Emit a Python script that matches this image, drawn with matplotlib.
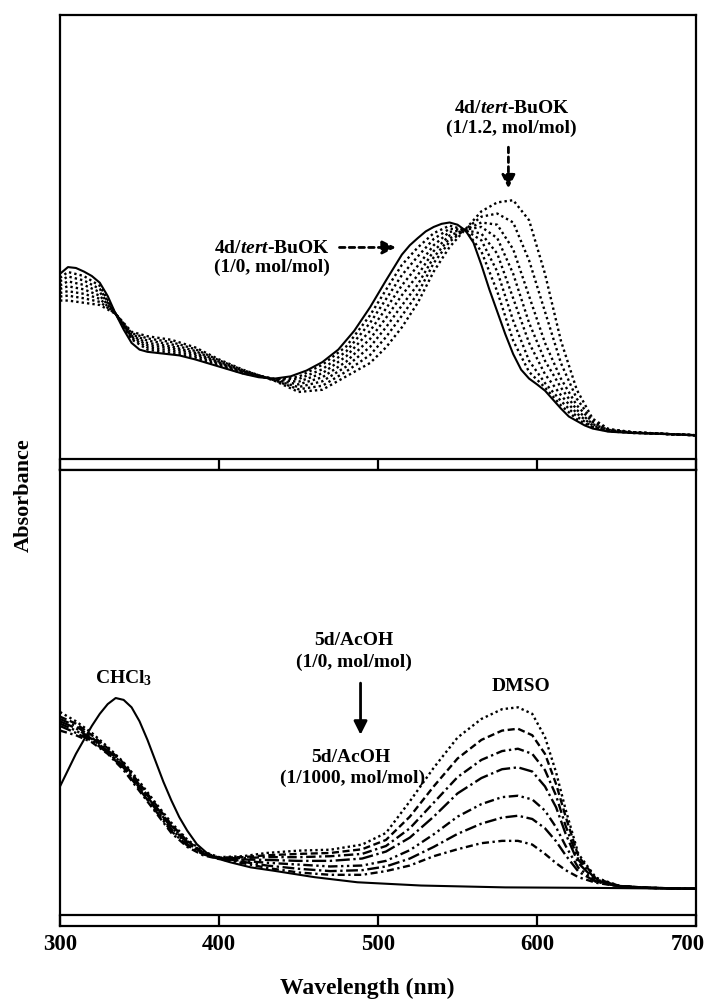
"""UV-vis spectra: 4d titrated with tert-BuOK (top), 5d with AcOH in DMSO (bottom)"""
import matplotlib
matplotlib.use('Agg')
import matplotlib.pyplot as plt
from matplotlib.transforms import ScaledTranslation

plt.rcParams['font.family'] = 'Liberation Serif'
plt.rcParams['font.weight'] = 'bold'
plt.rcParams['mathtext.fontset'] = 'custom'
plt.rcParams['mathtext.rm'] = 'Liberation Serif:bold'
plt.rcParams['mathtext.it'] = 'Liberation Serif:italic:bold'
plt.rcParams['mathtext.bf'] = 'Liberation Serif:bold'

# ---- top panel: 4d / tert-BuOK ----
wl_top_solid = [300, 305, 310, 315, 320, 325, 330, 335, 340, 345, 350, 355, 365, 375, 385,
                400, 415, 425, 435, 445, 455, 465, 475, 485, 495, 505, 515, 520, 525, 530,
                535, 540, 545, 550, 555, 560, 565, 570, 575, 580, 585, 590, 595, 600, 605,
                610, 615, 620, 625, 630, 635, 645, 660, 680, 700]
top_solid = [0.42, 0.435, 0.433, 0.425, 0.415, 0.40, 0.37, 0.33, 0.295, 0.265, 0.25, 0.245,
             0.241, 0.237, 0.228, 0.212, 0.196, 0.188, 0.185, 0.19, 0.203, 0.222, 0.25, 0.292,
             0.345, 0.405, 0.463, 0.484, 0.50, 0.515, 0.525, 0.532, 0.535, 0.53, 0.517, 0.49,
             0.44, 0.385, 0.335, 0.285, 0.24, 0.205, 0.185, 0.172, 0.158, 0.138, 0.118, 0.10,
             0.09, 0.08, 0.073, 0.066, 0.063, 0.061, 0.058]

wl_top = [300, 305, 315, 325, 335, 345, 355, 370, 385, 400, 415, 435, 450, 465, 480,
          495, 505, 515, 525, 535, 545, 555, 565, 575, 585, 595, 605, 615, 625, 635,
          645, 660, 680, 700]
top_dot1 = [0.411, 0.424, 0.415, 0.393, 0.33, 0.273, 0.25, 0.243, 0.232, 0.214, 0.197, 0.184,
            0.189, 0.216, 0.257, 0.327, 0.384, 0.44, 0.479, 0.511, 0.528, 0.518, 0.47, 0.38,
            0.27, 0.20, 0.165, 0.125, 0.094, 0.075, 0.067, 0.063, 0.061, 0.058]
top_dot2 = [0.403, 0.414, 0.405, 0.386, 0.33, 0.276, 0.255, 0.248, 0.236, 0.217, 0.199, 0.184,
            0.184, 0.206, 0.246, 0.31, 0.363, 0.417, 0.459, 0.498, 0.521, 0.518, 0.495, 0.425,
            0.315, 0.225, 0.175, 0.135, 0.10, 0.077, 0.068, 0.064, 0.061, 0.058]
top_dot3 = [0.394, 0.403, 0.395, 0.379, 0.33, 0.279, 0.26, 0.253, 0.24, 0.219, 0.20, 0.183,
            0.178, 0.197, 0.235, 0.292, 0.342, 0.394, 0.438, 0.484, 0.514, 0.518, 0.51, 0.465,
            0.365, 0.265, 0.195, 0.148, 0.107, 0.08, 0.069, 0.064, 0.061, 0.058]
top_dot4 = [0.386, 0.392, 0.385, 0.371, 0.33, 0.281, 0.265, 0.257, 0.243, 0.221, 0.201, 0.182,
            0.172, 0.188, 0.223, 0.274, 0.321, 0.372, 0.417, 0.471, 0.506, 0.519, 0.525, 0.50,
            0.42, 0.31, 0.225, 0.165, 0.115, 0.083, 0.07, 0.064, 0.061, 0.058]
top_dot5 = [0.377, 0.381, 0.375, 0.364, 0.33, 0.284, 0.27, 0.262, 0.247, 0.223, 0.202, 0.181,
            0.166, 0.179, 0.212, 0.256, 0.30, 0.349, 0.396, 0.457, 0.499, 0.519, 0.535, 0.53,
            0.475, 0.37, 0.265, 0.185, 0.125, 0.087, 0.07, 0.065, 0.061, 0.058]
top_dot6 = [0.369, 0.371, 0.365, 0.357, 0.33, 0.287, 0.275, 0.267, 0.251, 0.226, 0.204, 0.181,
            0.161, 0.169, 0.201, 0.238, 0.278, 0.326, 0.376, 0.444, 0.492, 0.52, 0.548, 0.555,
            0.535, 0.45, 0.335, 0.22, 0.14, 0.09, 0.071, 0.065, 0.061, 0.058]
top_dot7 = [0.36, 0.36, 0.355, 0.35, 0.33, 0.29, 0.28, 0.272, 0.255, 0.228, 0.205, 0.18,
            0.155, 0.16, 0.19, 0.22, 0.255, 0.30, 0.355, 0.425, 0.48, 0.52, 0.56, 0.58,
            0.585, 0.54, 0.42, 0.27, 0.16, 0.095, 0.072, 0.065, 0.061, 0.058]

# ---- bottom panel: 5d in CHCl3 / DMSO with AcOH ----
wl_chcl3 = [300, 305, 310, 315, 320, 325, 330, 335, 340, 345, 350, 355, 360, 365, 370,
            375, 380, 386, 392, 397, 407, 420, 434, 460, 487, 527, 580, 633, 700]
chcl3 = [0.30, 0.335, 0.37, 0.40, 0.43, 0.456, 0.477, 0.49, 0.486, 0.47, 0.44, 0.40,
         0.355, 0.31, 0.27, 0.234, 0.205, 0.176, 0.158, 0.147, 0.137, 0.126, 0.119, 0.105,
         0.094, 0.087, 0.083, 0.082, 0.08]

wl_dmso = [300, 310, 320, 330, 340, 350, 360, 370, 380, 390, 400, 415, 430, 450, 470, 490,
           505, 520, 535, 550, 565, 578, 588, 597, 605, 612, 618, 626, 637, 652, 670, 700]
dmso_1 = [0.46, 0.44, 0.415, 0.385, 0.352, 0.31, 0.265, 0.222, 0.186, 0.16, 0.148, 0.15,
          0.157, 0.162, 0.164, 0.175, 0.20, 0.268, 0.34, 0.405, 0.445, 0.466, 0.47, 0.456,
          0.406, 0.33, 0.25, 0.155, 0.104, 0.086, 0.082, 0.08]
dmso_2 = [0.45, 0.435, 0.41, 0.382, 0.35, 0.306, 0.262, 0.218, 0.183, 0.158, 0.147, 0.148,
          0.152, 0.155, 0.157, 0.165, 0.185, 0.235, 0.30, 0.36, 0.40, 0.42, 0.424, 0.41,
          0.37, 0.305, 0.235, 0.15, 0.102, 0.086, 0.082, 0.08]
dmso_3 = [0.445, 0.43, 0.405, 0.378, 0.346, 0.303, 0.258, 0.215, 0.181, 0.157, 0.146, 0.146,
          0.148, 0.148, 0.15, 0.155, 0.172, 0.21, 0.265, 0.32, 0.357, 0.376, 0.381, 0.37,
          0.335, 0.28, 0.215, 0.142, 0.10, 0.086, 0.082, 0.08]
dmso_4 = [0.44, 0.425, 0.402, 0.376, 0.343, 0.30, 0.255, 0.212, 0.179, 0.156, 0.146, 0.143,
          0.142, 0.14, 0.14, 0.145, 0.16, 0.19, 0.235, 0.285, 0.318, 0.337, 0.341, 0.332,
          0.30, 0.255, 0.198, 0.135, 0.098, 0.086, 0.082, 0.08]
dmso_5 = [0.435, 0.42, 0.40, 0.374, 0.34, 0.297, 0.252, 0.208, 0.176, 0.155, 0.145, 0.14,
          0.136, 0.132, 0.128, 0.13, 0.14, 0.163, 0.197, 0.235, 0.262, 0.277, 0.28, 0.272,
          0.248, 0.212, 0.172, 0.125, 0.096, 0.085, 0.082, 0.08]
dmso_6 = [0.43, 0.415, 0.398, 0.372, 0.338, 0.294, 0.248, 0.204, 0.173, 0.154, 0.145, 0.138,
          0.13, 0.123, 0.118, 0.12, 0.128, 0.145, 0.17, 0.198, 0.22, 0.233, 0.237, 0.23,
          0.21, 0.182, 0.152, 0.117, 0.095, 0.085, 0.082, 0.08]
dmso_7 = [0.42, 0.41, 0.395, 0.37, 0.335, 0.29, 0.245, 0.20, 0.17, 0.152, 0.144, 0.135,
          0.125, 0.115, 0.11, 0.11, 0.118, 0.13, 0.15, 0.165, 0.178, 0.183, 0.183, 0.175,
          0.155, 0.135, 0.12, 0.105, 0.093, 0.085, 0.082, 0.08]

xticks = [300, 400, 500, 600, 700]

dot = (0, (1, 1.3))
dmso_styles = [dot, (0, (3, 1.5)), (0, (4, 1.5, 1, 1.5)), (0, (6, 1.5, 1, 1.5)),
               (0, (4, 1.5, 1, 1.5, 1, 1.5)), (0, (5, 1.5, 1, 1.5)), (0, (3, 1.5, 1, 1.5))]

fig = plt.figure(figsize=(7.07, 10.05), dpi=100)
ax_top = fig.add_axes([0.0849, 0.5323, 0.8996, 0.4527])
ax_bot = fig.add_axes([0.0849, 0.0786, 0.8996, 0.4537])

strip_px = 11
for ax in (ax_top, ax_bot):
    ax.set_xlim(300, 700)
    ax.set_xticks(xticks)
    ax.set_yticks([])
    for sp in ax.spines.values():
        sp.set_linewidth(1.6)
    h = ax.get_position().height * 1005
    ax.plot([0, 1], [strip_px / h, strip_px / h], transform=ax.transAxes,
            color='k', lw=1.6, clip_on=False)
    ax.tick_params(axis='x', direction='in', length=strip_px * 0.72, width=1.6,
                   labelsize=16.5, pad=6)

ax_top.set_ylim(-0.02, 1.0)
ax_bot.set_ylim(0, 0.98)
ax_top.tick_params(axis='x', labelbottom=False)

# keep "700" inside the figure like the original
last = ax_bot.get_xticklabels()[-1]
last.set_transform(last.get_transform() + ScaledTranslation(-8 / 100, 0, fig.dpi_scale_trans))

# top spectra
for ys in [top_dot1, top_dot2, top_dot3, top_dot4, top_dot5, top_dot6, top_dot7]:
    ax_top.plot(wl_top, ys, color='k', lw=1.7, linestyle=dot)
ax_top.plot(wl_top_solid, top_solid, color='k', lw=1.5)

ax_top.text(433, 0.477, '4d/$\\mathit{tert}$-BuOK', ha='center', va='center', fontsize=14)
ax_top.text(433, 0.434, '(1/0, mol/mol)', ha='center', va='center', fontsize=14)
ax_top.annotate('', xy=(513, 0.479), xytext=(474, 0.479),
                arrowprops=dict(arrowstyle='-|>', color='k', lw=2,
                                linestyle=(0, (2, 1.5)), mutation_scale=20))
ax_top.text(584, 0.79, '4d/$\\mathit{tert}$-BuOK', ha='center', va='center', fontsize=14)
ax_top.text(584, 0.745, '(1/1.2, mol/mol)', ha='center', va='center', fontsize=14)
ax_top.annotate('', xy=(582, 0.605), xytext=(582, 0.71),
                arrowprops=dict(arrowstyle='-|>', color='k', lw=2,
                                linestyle=(0, (2, 1.5)), mutation_scale=20))

# bottom spectra
for ys, ls in zip([dmso_1, dmso_2, dmso_3, dmso_4, dmso_5, dmso_6, dmso_7], dmso_styles):
    ax_bot.plot(wl_dmso, ys, color='k', lw=1.7, linestyle=ls)
ax_bot.plot(wl_chcl3, chcl3, color='k', lw=1.5)

ax_bot.text(340, 0.532, 'CHCl$_3$', ha='center', va='center', fontsize=14)
ax_bot.text(590, 0.515, 'DMSO', ha='center', va='center', fontsize=14)
ax_bot.text(485, 0.614, '5d/AcOH', ha='center', va='center', fontsize=14)
ax_bot.text(485, 0.567, '(1/0, mol/mol)', ha='center', va='center', fontsize=14)
ax_bot.annotate('', xy=(489, 0.405), xytext=(489, 0.528),
                arrowprops=dict(arrowstyle='-|>', color='k', lw=2, mutation_scale=20))
ax_bot.text(483, 0.362, '5d/AcOH', ha='center', va='center', fontsize=14)
ax_bot.text(484, 0.317, '(1/1000, mol/mol)', ha='center', va='center', fontsize=14)

fig.text(0.519, 1 - 988 / 1005, 'Wavelength (nm)', ha='center', va='center', fontsize=17)
fig.text(0.033, 1 - 495 / 1005, 'Absorbance', ha='center', va='center', rotation=90,
         fontsize=16)

fig.savefig('out.png', dpi=100)
